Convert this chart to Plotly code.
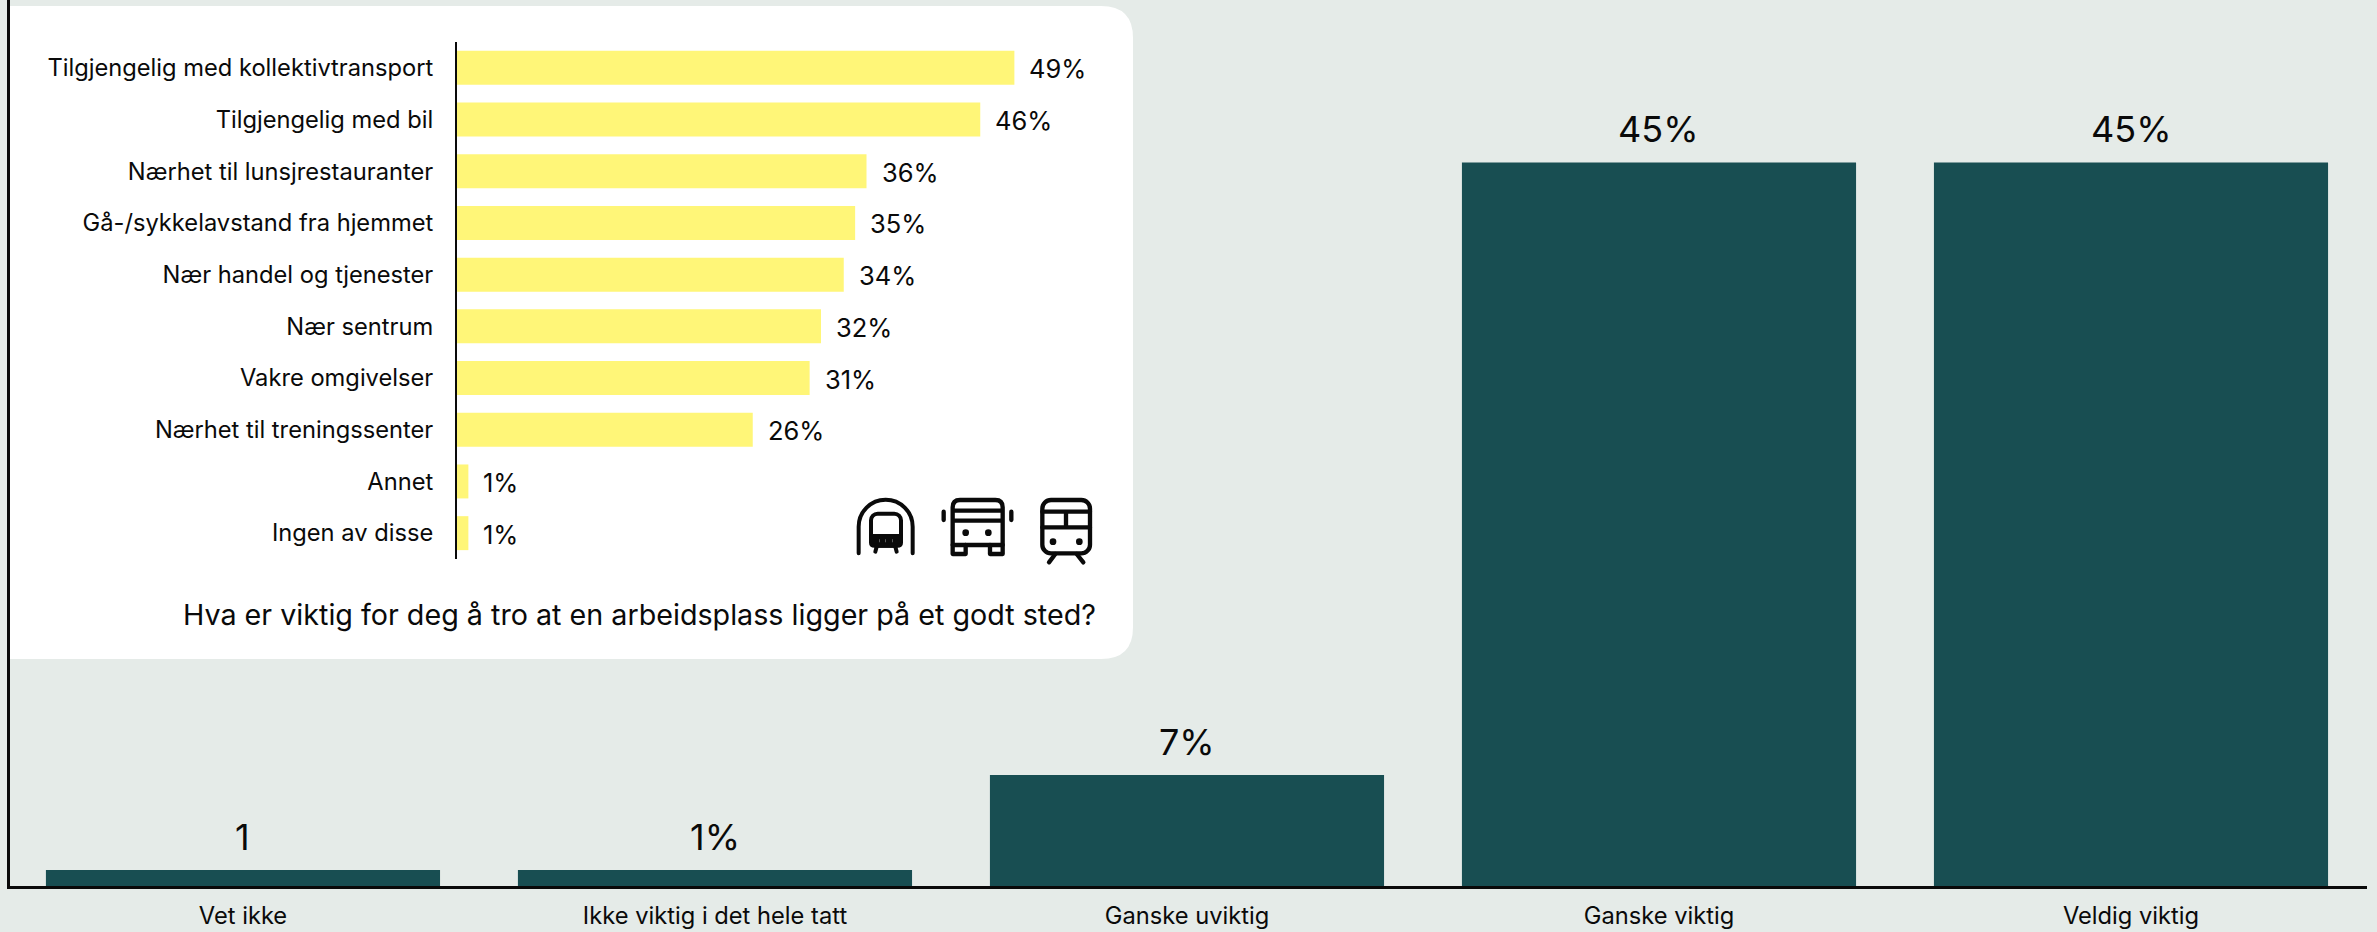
import base64
import plotly.graph_objects as go

W, H = 2377, 932
FONT = "Inter, 'Noto Sans', sans-serif"
BG = "#E5EBE8"
TEAL = "#184E52"
YELLOW = "#FFF678"
INK = "#0A0A0A"

main_categories = ["Vet ikke", "Ikke viktig i det hele tatt", "Ganske uviktig", "Ganske viktig", "Veldig viktig"]
main_values = [1, 1, 6.9, 45, 45]
main_labels = ["1", "1%", "7%", "45%", "45%"]

inset_categories = ["Tilgjengelig med kollektivtransport", "Tilgjengelig med bil", "Nærhet til lunsjrestauranter",
                    "Gå-/sykkelavstand fra hjemmet", "Nær handel og tjenester", "Nær sentrum", "Vakre omgivelser",
                    "Nærhet til treningssenter", "Annet", "Ingen av disse"]
inset_values = [49, 46, 36, 35, 34, 32, 31, 26, 1, 1]
inset_labels = ["49%", "46%", "36%", "35%", "34%", "32%", "31%", "26%", "1%", "1%"]

inset_title = "Hva er viktig for deg å tro at en arbeidsplass ligger på et godt sted?"


def px(x):
    return x / W


def py(y):
    return 1 - y / H


ICONS = """<svg xmlns='http://www.w3.org/2000/svg' viewBox='0 0 960 600' fill='none' stroke='#0A0A0A' stroke-width='12' stroke-linecap='round' stroke-linejoin='round'>
<path d='M116 250 V170 A81 81 0 0 1 278 170 V250'/>
<rect x='153' y='131' width='90' height='96' rx='20'/>
<path d='M153 198 H243'/>
<path d='M153 203 H243 V218 Q243 227 232 227 H164 Q153 227 153 218 Z' fill='#0A0A0A'/>
<path d='M170 230 L166 245 M226 230 L230 245'/>
<path d='M177 212 h1 M197 212 h1 M217 212 h1' stroke='#FFFFFF' stroke-width='9' stroke-linecap='butt'/>
<path d='M398 225 V112 Q398 90 420 90 H526 Q548 90 548 112 V225 Z M398 122 H548 M398 152 H548' stroke-width='13'/>
<path d='M398 225 V252 H437 V225 M510 225 V252 H548 V225' stroke-width='13'/>
<path d='M371 125 V150 M574 125 V150' stroke-width='13'/>
<circle cx='437' cy='188' r='10' fill='#0A0A0A' stroke='none'/>
<circle cx='505' cy='188' r='10' fill='#0A0A0A' stroke='none'/>
<rect x='667' y='90' width='143' height='160' rx='26' stroke-width='13'/>
<path d='M667 125 H810 M667 172 H810 M738 125 V172' stroke-width='13'/>
<circle cx='699' cy='215' r='10' fill='#0A0A0A' stroke='none'/>
<circle cx='778' cy='215' r='10' fill='#0A0A0A' stroke='none'/>
<path d='M706 252 L687 277 M770 252 L790 277' stroke-width='13'/>
</svg>"""
icon_uri = "data:image/svg+xml;base64," + base64.b64encode(ICONS.encode()).decode()

fig = go.Figure()
fig.add_trace(go.Bar(x=main_categories, y=main_values, width=0.835, marker=dict(color=TEAL, line=dict(width=0)),
                     xaxis="x", yaxis="y", hoverinfo="skip", showlegend=False))
fig.add_trace(go.Bar(y=inset_categories, x=inset_values, width=0.657, orientation="h",
                     marker=dict(color=YELLOW, line=dict(width=0)),
                     xaxis="x2", yaxis="y2", hoverinfo="skip", showlegend=False))

annotations = []
for c, v, t in zip(main_categories, main_values, main_labels):
    annotations.append(dict(x=c, y=v, xref="x", yref="y", text=t, showarrow=False, xanchor="center",
                            yanchor="bottom", yshift=9, font=dict(family=FONT, size=36, color=INK)))
for c, v, t in zip(inset_categories, inset_values, inset_labels):
    annotations.append(dict(x=v, y=c, xref="x2", yref="y2", text=t, showarrow=False, xanchor="left",
                            yanchor="middle", xshift=13, yshift=-1, font=dict(family=FONT, size=25.5, color=INK)))
annotations.append(dict(x=px(1098), y=py(614), xref="paper", yref="paper", text=inset_title, showarrow=False,
                        xanchor="right", yanchor="middle", font=dict(family=FONT, size=28.7, color=INK)))

r = 32
panel_l, panel_t, panel_r, panel_b = 10, 6, 1133, 659
panel_path = (
    f"M {px(panel_l)} {py(panel_t)} "
    f"L {px(panel_r - r)} {py(panel_t)} Q {px(panel_r)} {py(panel_t)} {px(panel_r)} {py(panel_t + r)} "
    f"L {px(panel_r)} {py(panel_b - r)} Q {px(panel_r)} {py(panel_b)} {px(panel_r - r)} {py(panel_b)} "
    f"L {px(panel_l)} {py(panel_b)} Z"
)

fig.update_layout(
    width=W, height=H, margin=dict(l=0, r=0, t=0, b=0), autosize=False,
    paper_bgcolor=BG, plot_bgcolor="rgba(0,0,0,0)", showlegend=False,
    font=dict(family=FONT, color=INK),
    xaxis=dict(domain=[px(10), px(2367)], range=[-0.4936, 4.5], type="category", showline=True, linecolor=INK, linewidth=3,
               showgrid=False, zeroline=False, ticks="", ticklabelstandoff=7, automargin=False,
               tickfont=dict(family=FONT, size=23.7, color=INK)),
    yaxis=dict(domain=[py(886), 1], range=[0, 55.1], showline=True, linecolor=INK, linewidth=3, showgrid=False,
               zeroline=False, showticklabels=False, ticks="", automargin=False),
    xaxis2=dict(domain=[px(457), px(1094)], range=[0, 56], anchor="y2", showline=False, showgrid=False, zeroline=False,
                showticklabels=False, ticks="", automargin=False),
    yaxis2=dict(domain=[py(559), py(42)], anchor="x2", type="category", autorange="reversed", showline=True,
                linecolor=INK, linewidth=2, showgrid=False, zeroline=False, ticks="", ticklabelstandoff=17, automargin=False,
                tickfont=dict(family=FONT, size=23.7, color=INK)),
    annotations=annotations,
    shapes=[dict(type="path", path=panel_path, xref="paper", yref="paper", fillcolor="#FFFFFF",
                 line=dict(width=0), layer="below")],
    images=[dict(source=icon_uri, xref="paper", yref="paper", x=px(820), y=py(470), sizex=320 / W, sizey=200 / H,
                 xanchor="left", yanchor="top", sizing="stretch", layer="above")],
)
fig.write_html("out.html", config=dict(displayModeBar=False),
               post_script="document.body.style.margin='0';document.documentElement.style.overflow='hidden';")
